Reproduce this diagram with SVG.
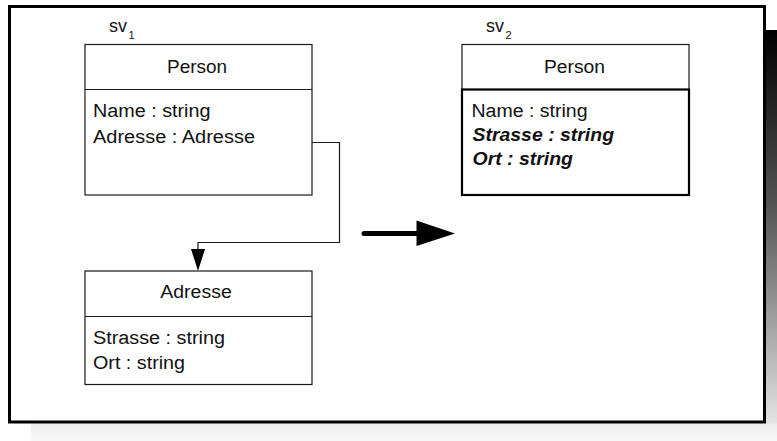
<svg xmlns="http://www.w3.org/2000/svg" width="777" height="441" viewBox="0 0 777 441">
  <style>
    text { font-family: "Liberation Sans", Arial, sans-serif; font-size: 18px; fill: #111; }
    .title { text-anchor: middle; }
    .em { font-weight: bold; font-style: italic; }
    .sub { font-size: 11px; }
    .box { fill: #fff; stroke: #1a1a1a; stroke-width: 1.2; }
    .boxbold { fill: none; stroke: #000; stroke-width: 2.2; }
    .conn { fill: none; stroke: #1a1a1a; stroke-width: 1.2; }
  </style>
  <defs>
    <linearGradient id="shadeRight" x1="0" y1="0" x2="0" y2="1">
      <stop offset="0" stop-color="#000"/>
      <stop offset="0.45" stop-color="#555"/>
      <stop offset="1" stop-color="#e4e4e4"/>
    </linearGradient>
    <linearGradient id="shadeBottom" x1="0" y1="0" x2="0" y2="1">
      <stop offset="0" stop-color="#eeeeee"/>
      <stop offset="1" stop-color="#f8f8f8"/>
    </linearGradient>
    <marker id="tri" viewBox="0 0 14 22" refX="7" refY="22" markerWidth="14" markerHeight="22" markerUnits="userSpaceOnUse" orient="auto-start-reverse">
      <path d="M0,0 L14,0 L7,22 Z" fill="#000"/>
    </marker>
  </defs>

  <!-- page background and drop shadow -->
  <rect x="0" y="0" width="777" height="441" fill="#fff"/>
  <rect x="766" y="30" width="11" height="394" fill="url(#shadeRight)"/>
  <rect x="31" y="423.5" width="746" height="17.5" fill="url(#shadeBottom)"/>
  <rect id="frame" x="9.5" y="6.5" width="755" height="415.5" fill="#fff" stroke="#000" stroke-width="3"/>

  <!-- connectors -->
  <g id="connectors">
    <path class="conn" d="M312,142.5 H339.5 V242.5 H198 V249"/>
    <path d="M198,249 L191,249 L198,271 L205,249 Z" fill="#000"/>
    <line x1="364" y1="233.5" x2="418" y2="233.5" stroke="#000" stroke-width="5" stroke-linecap="round"/>
    <path d="M416.5,220.5 L455,233.5 L416.5,246 Z" fill="#000"/>
  </g>

  <!-- sv1 : Person -->
  <g id="sv1-label">
    <text x="109" y="32">sv</text>
    <text class="sub" x="128.5" y="39">1</text>
  </g>
  <g id="sv1-person">
    <rect class="box" x="85" y="44.5" width="227" height="150.5"/>
    <line class="conn" x1="85" y1="89.5" x2="312" y2="89.5"/>
    <text class="title" x="197" y="72.7" textLength="60" lengthAdjust="spacingAndGlyphs">Person</text>
    <text x="93" y="116.7" textLength="117.5" lengthAdjust="spacingAndGlyphs">Name : string</text>
    <text x="93" y="142.5" textLength="162" lengthAdjust="spacingAndGlyphs">Adresse : Adresse</text>
  </g>

  <!-- sv1 : Adresse -->
  <g id="sv1-adresse">
    <rect class="box" x="85" y="271" width="227" height="113.5"/>
    <line class="conn" x1="85" y1="316.5" x2="312" y2="316.5"/>
    <text class="title" x="196" y="297.7" textLength="71.5" lengthAdjust="spacingAndGlyphs">Adresse</text>
    <text x="93" y="344" textLength="132" lengthAdjust="spacingAndGlyphs">Strasse : string</text>
    <text x="93" y="369" textLength="92" lengthAdjust="spacingAndGlyphs">Ort : string</text>
  </g>

  <!-- sv2 : Person with flattened address -->
  <g id="sv2-label">
    <text x="486" y="32">sv</text>
    <text class="sub" x="505.5" y="39">2</text>
  </g>
  <g id="sv2-person">
    <rect class="box" x="462" y="44.5" width="227" height="150.5"/>
    <rect class="boxbold" x="462" y="89.5" width="227" height="105.5"/>
    <text class="title" x="574.5" y="72.7" textLength="61" lengthAdjust="spacingAndGlyphs">Person</text>
    <text x="471.5" y="117" textLength="116" lengthAdjust="spacingAndGlyphs">Name : string</text>
    <text class="em" x="472.5" y="141" textLength="141.5" lengthAdjust="spacingAndGlyphs">Strasse : string</text>
    <text class="em" x="472.5" y="164.5" textLength="100.5" lengthAdjust="spacingAndGlyphs">Ort : string</text>
  </g>
</svg>
